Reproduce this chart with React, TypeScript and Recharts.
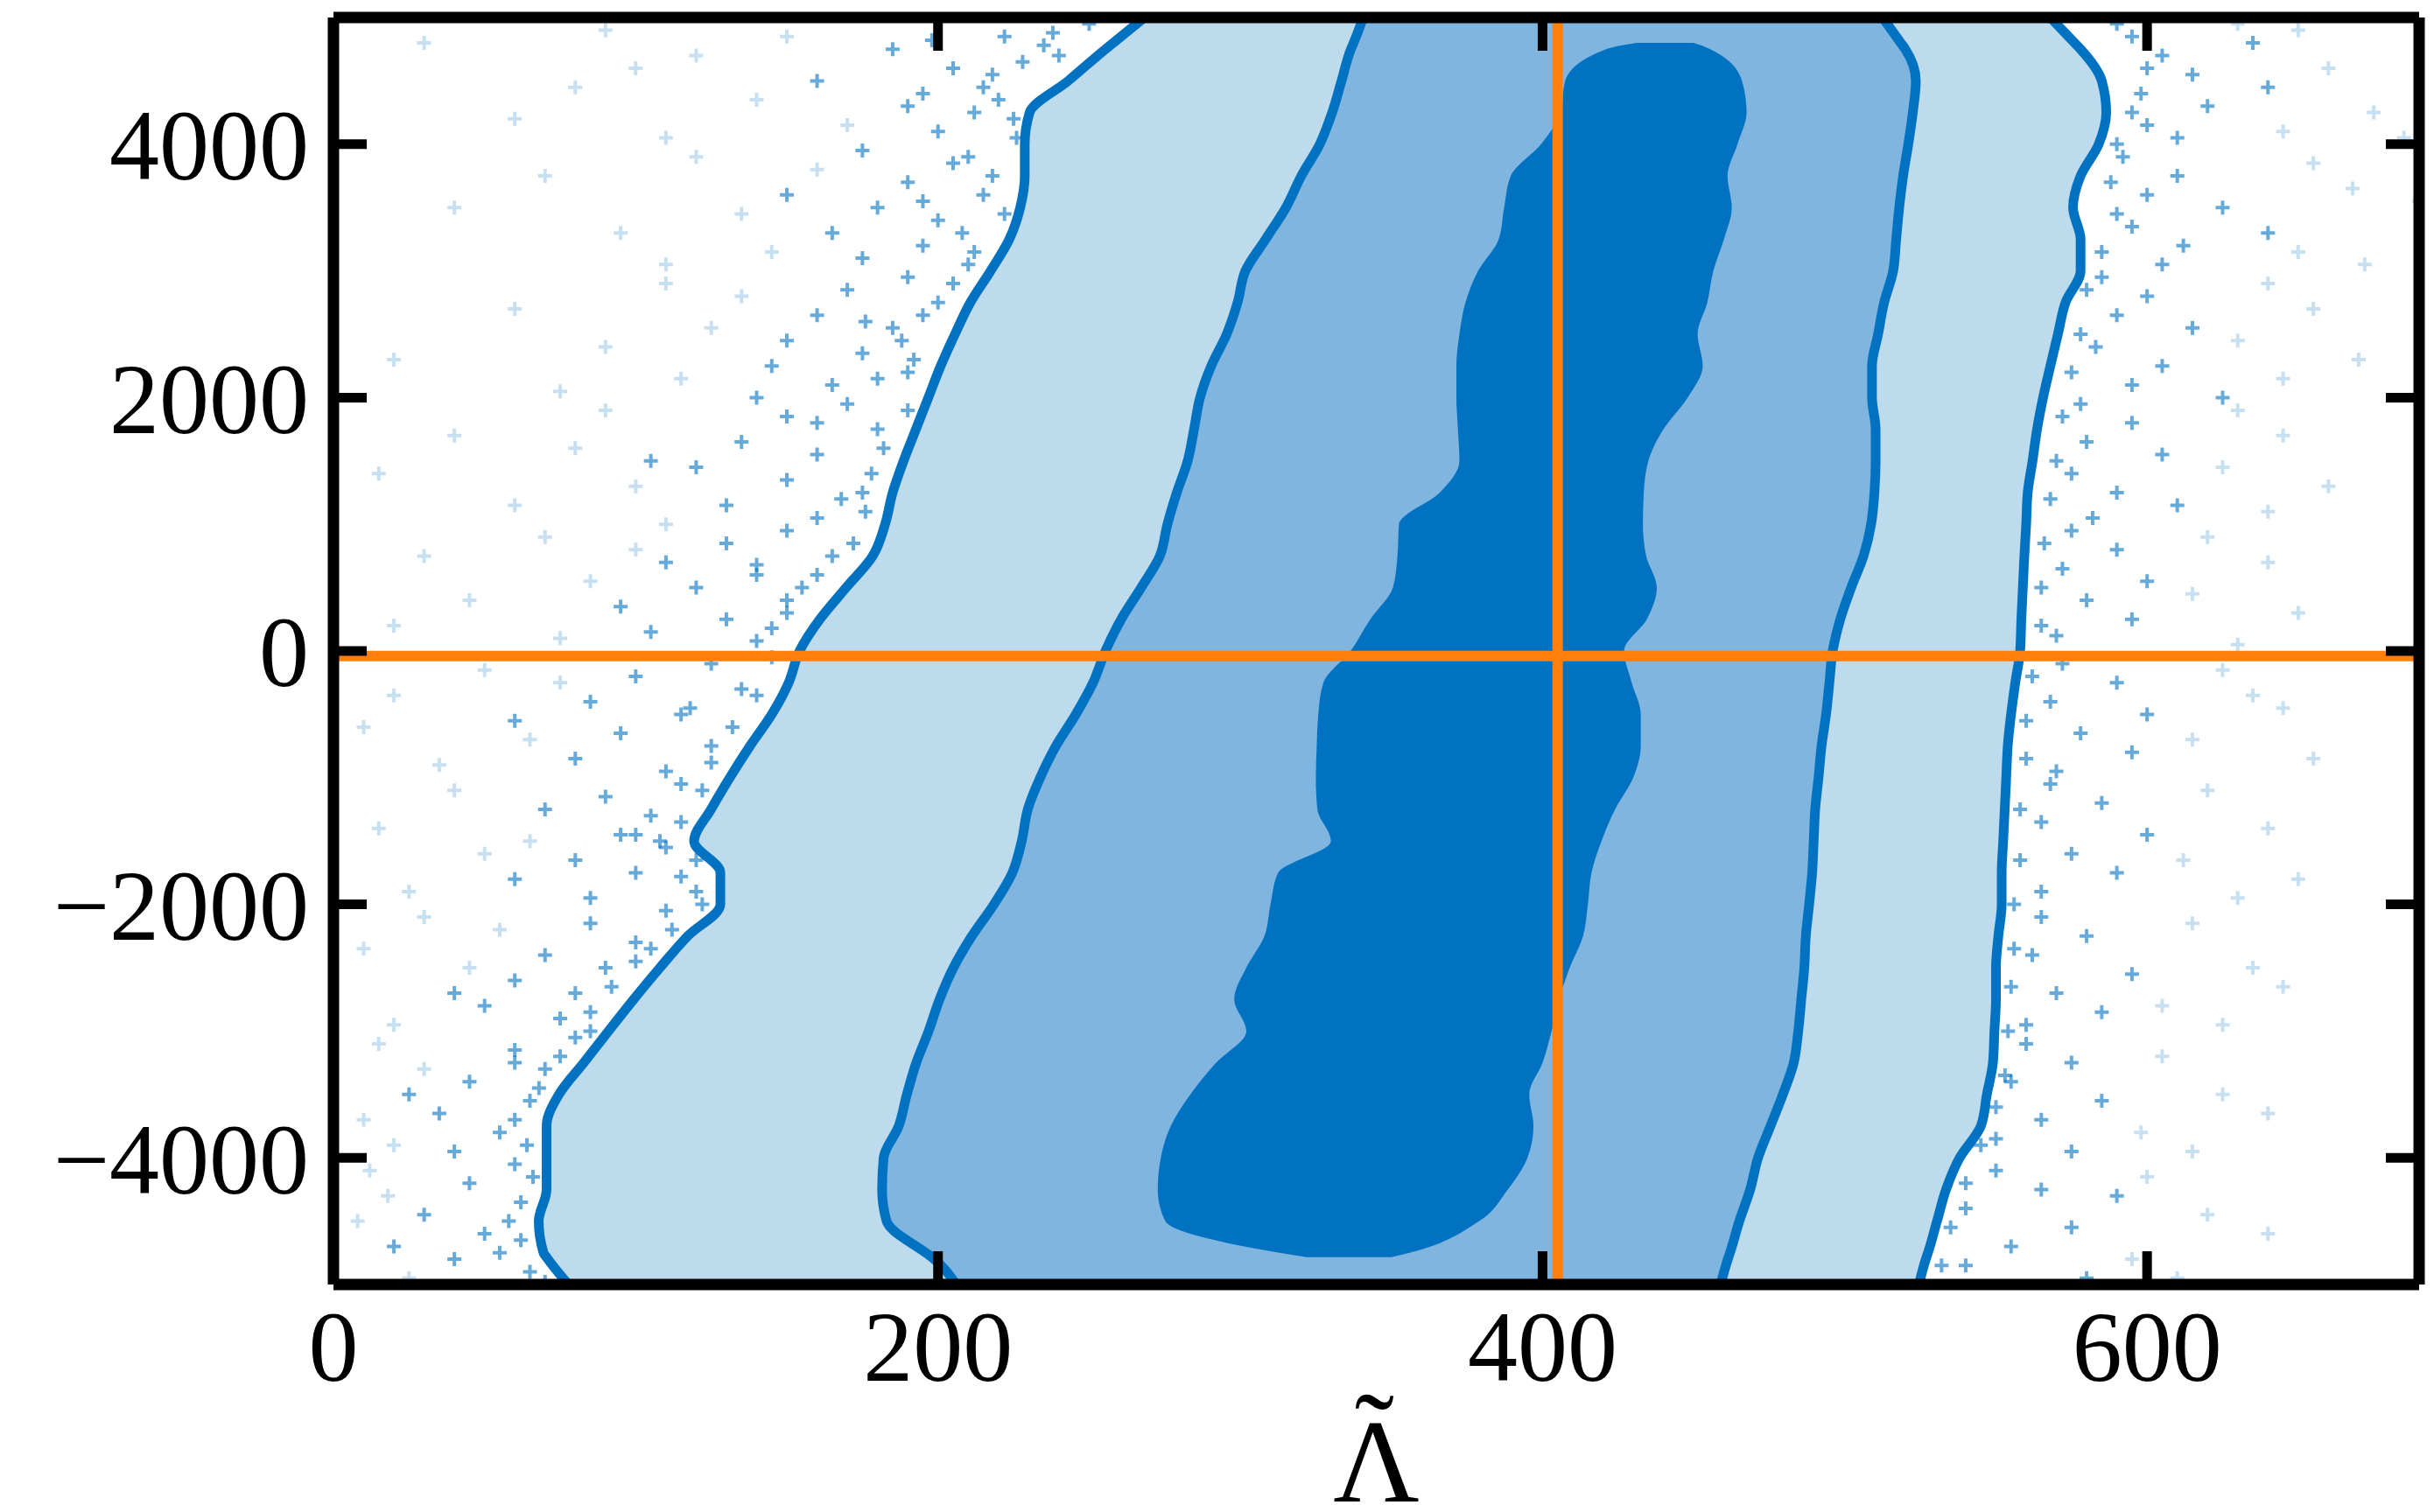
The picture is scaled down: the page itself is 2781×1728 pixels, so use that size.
import React from 'react';
import { ComposedChart, Area, Scatter, XAxis, YAxis, ReferenceLine, Label } from 'recharts';

// Contour levels sampled along the y axis (top to bottom)
const yLevels = [5000, 4800, 4750, 4500, 4250, 4000, 3750, 3500, 3250, 3000, 2750, 2500, 2250, 2000, 1750, 1500, 1250, 1000, 750, 500, 250, 0, -250, -500, -750, -1000, -1250, -1500, -1750, -2000, -2250, -2500, -2750, -3000, -3250, -3500, -3750, -4000, -4250, -4500, -4750, -4785, -5000];

const outerLeft = [268.3, 258, 255.4, 243.1, 230.3, 228.7, 228.7, 227.2, 223.6, 217.4, 210.7, 205.6, 200.9, 196.8, 192.7, 188.6, 185.0, 182.5, 178.4, 169.6, 160.9, 154.2, 150.6, 145.0, 137.8, 131.1, 124.9, 119.3, 128, 128, 117.2, 108.0, 99.3, 91.0, 82.8, 74.6, 70.5, 70.5, 70.5, 67.9, 69.5, 70.5, 77.7];
const outerRight = [568, 576, 578, 585, 586.5, 584, 578, 575.5, 578, 578, 573, 570.5, 568, 565.6, 563.6, 562.1, 560.5, 560, 559.4, 558.9, 558.4, 558, 556.4, 555, 553.9, 553.4, 552.9, 552.4, 551.9, 551.9, 550.8, 550, 550, 549.5, 549, 547, 545, 538, 533.5, 530.5, 527.5, 527, 524.5];
const midLeft = [340.7, 337.5, 336.6, 333.5, 330.4, 326.3, 320.2, 315.1, 308.4, 301.7, 299.1, 295.5, 290.4, 286.7, 284.7, 282.6, 279.0, 275.9, 273.4, 267.2, 260.6, 255.4, 251.3, 245.6, 239.0, 233.8, 229.7, 227.7, 224.6, 218.5, 211.2, 205.1, 200.5, 196.9, 192.8, 189.7, 187, 182, 181.5, 183, 196, 198, 206];
const midRight = [512.5, 518.5, 520, 523.5, 522.5, 521, 519.3, 518, 517, 516, 513, 511, 509, 509, 510.2, 510.2, 509.8, 508.7, 506.2, 502.1, 498.5, 496.0, 494.9, 493.8, 492.3, 491.3, 490.2, 489.7, 489.2, 488.2, 487.1, 486.6, 485.6, 484.6, 483.1, 479.5, 475.4, 471.3, 468.7, 465.1, 462, 461.5, 458.9];
const innerLeft = [null, 431, 421, 407.5, 406, 399.5, 389.5, 387.3, 385.5, 378.7, 374.5, 372.5, 371.5, 371.5, 372, 372.5, 366, 352.5, 352, 350.5, 343, 336.5, 327.5, 325.8, 325.3, 325, 325.5, 330, 312.5, 310, 308, 302, 298, 302, 292, 283.5, 277, 273.7, 272.7, 275.2, 313, 322, null];
const innerRight = [null, 450, 455.5, 466, 467.5, 464.5, 461.2, 462.6, 460, 456.5, 454.5, 451.3, 453, 448, 440, 435, 433.5, 433.2, 434.3, 437.8, 434.5, 427, 429.5, 432.5, 432.5, 430, 424, 419.5, 416.2, 415, 413.4, 409, 405.5, 403, 400, 395.6, 397, 395, 388.5, 379, 356, 350, null];

// Sample points (x = Lambda tilde, y)
const strongX = [222, 240, 205, 215, 190, 225, 200, 175, 210, 185, 160, 198, 205, 190, 215, 180, 200, 165, 195, 175, 210, 150, 190, 170, 200, 160, 185, 150, 175, 145, 190, 165, 140, 170, 150, 180, 135, 160, 120, 150, 175, 130, 160, 105, 150, 130, 165, 110, 140, 120, 150, 95, 130, 105, 140, 125, 100, 135, 85, 115, 95, 125, 80, 110, 60, 115, 90, 105, 70, 95, 110, 80, 100, 60, 120, 85, 115, 110, 85, 100, 70, 90, 60, 80, 50, 75, 40, 80, 60, 70, 45, 65, 35, 55, 40, 25, 60, 60, 45, 62, 30, 50, 40, 65, 20, 55,
  250, 238, 228, 218, 235, 220, 212, 226, 195, 218, 222, 208, 212, 195, 205, 195, 188, 192, 180, 176, 190, 182, 178, 168, 176, 160, 172, 160, 150, 145, 155, 140, 145, 140, 132, 125, 118, 122, 115, 108, 120, 122, 100, 112, 100, 92, 85, 105, 85, 75, 68, 60, 64, 66, 58, 62, 70,
  595, 605, 615, 598, 620, 600, 640, 610, 635, 592, 610, 600, 625, 595, 612, 605, 640, 585, 600, 590, 615, 583, 605, 595, 625, 578, 595, 580, 605, 575, 590, 610, 582, 575, 590, 572, 600, 580, 595, 570, 572, 590, 568, 600, 578, 595, 570, 568, 585, 565, 600, 575, 590, 565, 565, 580, 562, 595, 570, 585, 560, 560, 575, 555, 585, 565, 550, 575, 550, 565, 540, 575, 555, 540, 580, 590,
  590, 600, 595, 590, 588, 590, 585, 580, 578, 575, 572, 570, 568, 566, 565, 565, 562, 560, 560, 558, 558, 556, 556, 555, 554, 553, 550, 545, 540, 535, 532];
const strongY = [4850, 4700, 4600, 4450, 4300, 4200, 4100, 3950, 3900, 4750, 4500, 4820, 3850, 3700, 3600, 3500, 3400, 3300, 3200, 3100, 3050, 3600, 2950, 2850, 2750, 2650, 2550, 2450, 2350, 2250, 2200, 2100, 2000, 1950, 1850, 1750, 1650, 1550, 1450, 1350, 1250, 1150, 1050, 1500, 950, 850, 750, 700, 600, 500, 400, 350, 250, 150, 80, -100, -200, -300, -400, -500, -650, -750, -850, -950, -550, -1050, -1150, -1300, -1250, -1450, -1550, -1650, -1750, -1800, -1900, -1950, -1780, -2050, -2150, -2300, -2400, -2500, -2600, -2700, -2800, -2900, -2700, -3050, -3150, -3300, -3400, -3550, -3650, -3800, -3950, -3500, -3250, -4050, -4200, -4350, -4450, -4600, -4800, -4900, -4700, -4750,
  4950, 4880, 4650, 4550, 4780, 4350, 4250, 4050, 4400, 3750, 3450, 3300, 3150, 3550, 2900, 2650, 2450, 2300, 2150, 2600, 1900, 1600, 1400, 1200, 1100, 1800, 850, 600, 300, 180, 500, 680, -50, -350, -600, -880, -450, -1100, -1350, -1500, -1650, -2000, -1450, -2200, -2450, -2650, -2850, -2350, -3000, -3200, -3450, -3700, -3900, -4150, -4500, -4650, -4980,
  4850, 4700, 4550, 4400, 4300, 4150, 4450, 4050, 4800, 3900, 3750, 3600, 3500, 3350, 3200, 3050, 3300, 2950, 2800, 2650, 2550, 2400, 2250, 2100, 2000, 1950, 1800, 1650, 1550, 1400, 1250, 1150, 1050, 950, 800, 650, 550, 400, 250, 120, -100, -250, -400, -500, -650, -800, -950, -1050, -1200, -1350, -1450, -1600, -1750, -1900, -2100, -2250, -2400, -2550, -2700, -2850, -2950, -3100, -3250, -3400, -3550, -3700, -3850, -3950, -4100, -4250, -4400, -4550, -4700, -4850, -4950, -4300,
  4950, 4600, 4250, 4000, 3700, 3450, 3150, 2850, 2500, 2200, 1850, 1500, 1200, 850, 500, 200, -200, -550, -850, -1250, -1650, -2000, -2350, -2650, -3000, -3350, -3600, -3900, -4200, -4550, -4850];
const faintX = [90, 30, 120, 80, 140, 60, 110, 150, 100, 170, 120, 70, 135, 95, 40, 145, 110, 160, 110, 60, 125, 90, 20, 115, 75, 135, 90, 40, 100, 60, 15, 80, 110, 70, 30, 85, 45, 20, 75, 100, 50, 20, 65, 35, 10, 75, 40, 15, 50, 25, 65, 30, 10, 45, 20, 55, 15, 10, 20, 30, 12, 8, 25, 18,
  650, 660, 675, 645, 630, 685, 655, 668, 690, 650, 672, 640, 655, 630, 670, 645, 630, 645, 625, 660, 640, 620, 640, 615, 650, 630, 625, 645, 615, 655, 635, 620, 640, 612, 650, 630, 615, 635, 605, 645, 625, 605, 625, 598, 640, 615, 600, 620, 595, 640, 610];
const faintY = [4900, 4800, 4700, 4450, 4350, 4200, 4050, 4850, 4600, 4150, 3900, 3750, 3450, 3300, 3500, 3150, 3050, 3800, 2900, 2700, 2550, 2400, 2300, 2150, 2050, 2800, 1900, 1700, 1300, 1150, 1400, 1600, 1000, 900, 750, 550, 400, 200, 100, 800, -150, -350, -700, -900, -600, -250, -1100, -1400, -1600, -1900, -1500, -2100, -2350, -2500, -2950, -2200, -3100, -3700, -3900, -3300, -4100, -4500, -4950, -4300,
  4900, 4600, 4250, 4100, 4950, 4050, 3850, 3650, 3550, 3150, 3050, 2900, 2700, 2450, 2300, 2150, 1900, 1700, 1450, 1300, 1100, 900, 700, 450, 300, 50, -150, -450, -700, -850, -350, -1100, -1400, -1650, -1800, -1950, -2150, -2500, -2800, -2650, -2950, -3200, -3500, -3800, -3650, -3950, -4150, -4450, -4800, -4600, -4950];

const xTicks = [0, 200, 400, 600];
const yTicks = [-4000, -2000, 0, 2000, 4000];
const refLambda = 405;
const refY = -40;
const xLabelBase = '\u039B';
const xLabelAccent = '\u02DC';

const contourRows = yLevels.map((y, i) => ({
  y,
  outer: [outerLeft[i], outerRight[i]],
  mid: [midLeft[i], midRight[i]],
  inner: innerLeft[i] == null ? null : [innerLeft[i], innerRight[i]],
}));
const strongPts = strongX.map((x, i) => ({ x, y: strongY[i] }));
const faintPts = faintX.map((x, i) => ({ x, y: faintY[i] }));

const DARK = '#0072c1';
const MID = '#7fb5de';
const LIGHT = '#bedbee';
const ORANGE = '#ff7f0e';
const FONT = 'Liberation Serif, Times New Roman, serif';

const makePlus = (opacity: number) => (props: any) => {
  const { cx, cy } = props;
  if (cx == null || cy == null) return null;
  return (
    <path
      d={`M${cx - 8},${cy}H${cx + 8}M${cx},${cy - 8}V${cy + 8}`}
      stroke={DARK}
      strokeOpacity={opacity}
      strokeWidth={4}
      fill="none"
    />
  );
};

const NoTick = () => <g />;

const XLabel = (props: any) => {
  const vb = props.viewBox || {};
  const cx = vb.x + vb.width / 2;
  const base = vb.y + vb.height - 12;
  return (
    <text textAnchor="middle" fontSize={136} fontFamily={FONT} fill="#000">
      <tspan x={cx} y={base}>{xLabelBase}</tspan>
      <tspan x={cx - 2} y={base - 31}>{xLabelAccent}</tspan>
    </text>
  );
};

const fmtY = (v: number) => String(v).replace('-', '\u2212');

export default function App() {
  const axisLine = { stroke: '#000', strokeWidth: 13 };
  const tickLine = { stroke: '#000', strokeWidth: 11 };
  const tickStyle = { fontSize: 114, fill: '#000', fontFamily: FONT };
  return (
    <ComposedChart
      width={2773}
      height={1720}
      data={contourRows}
      layout="vertical"
      margin={{ top: 11, right: 16, bottom: 0, left: 73 }}
    >
      <XAxis
        xAxisId="b"
        type="number"
        dataKey="x"
        domain={[0, 690]}
        ticks={xTicks}
        allowDataOverflow
        orientation="bottom"
        height={260}
        axisLine={axisLine}
        tickLine={tickLine}
        tickSize={-38}
        tickMargin={67}
        tick={tickStyle}
      >
        <Label content={XLabel} />
      </XAxis>
      <XAxis
        xAxisId="t"
        type="number"
        dataKey="x"
        domain={[0, 690]}
        ticks={xTicks}
        allowDataOverflow
        orientation="top"
        height={1}
        axisLine={axisLine}
        tickLine={tickLine}
        tickSize={-38}
        tick={NoTick}
      />
      <YAxis
        yAxisId="l"
        type="number"
        dataKey="y"
        domain={[-5000, 5000]}
        ticks={yTicks}
        allowDataOverflow
        reversed
        orientation="left"
        width={300}
        axisLine={axisLine}
        tickLine={tickLine}
        tickSize={-38}
        tickMargin={66}
        tick={tickStyle}
        tickFormatter={fmtY}
      />
      <YAxis
        yAxisId="r"
        type="number"
        dataKey="y"
        domain={[-5000, 5000]}
        ticks={yTicks}
        allowDataOverflow
        reversed
        orientation="right"
        width={1}
        axisLine={axisLine}
        tickLine={tickLine}
        tickSize={-38}
        tick={NoTick}
      />
      <Scatter xAxisId="b" yAxisId="l" data={faintPts} shape={makePlus(0.22)} isAnimationActive={false} zIndex={10} />
      <Scatter xAxisId="b" yAxisId="l" data={strongPts} shape={makePlus(0.6)} isAnimationActive={false} zIndex={11} />
      <Area xAxisId="b" yAxisId="l" dataKey="outer" type="monotone" fill={LIGHT} fillOpacity={1} stroke={DARK} strokeWidth={11} isAnimationActive={false} dot={false} activeDot={false} zIndex={20} />
      <Area xAxisId="b" yAxisId="l" dataKey="mid" type="monotone" fill={MID} fillOpacity={1} stroke={DARK} strokeWidth={11} isAnimationActive={false} dot={false} activeDot={false} zIndex={21} />
      <Area xAxisId="b" yAxisId="l" dataKey="inner" type="monotone" fill={DARK} fillOpacity={1} stroke="none" isAnimationActive={false} dot={false} activeDot={false} zIndex={22} />
      <ReferenceLine xAxisId="b" yAxisId="l" x={refLambda} stroke={ORANGE} strokeWidth={12} zIndex={30} />
      <ReferenceLine xAxisId="b" yAxisId="l" y={refY} stroke={ORANGE} strokeWidth={12} zIndex={30} />
    </ComposedChart>
  );
}
